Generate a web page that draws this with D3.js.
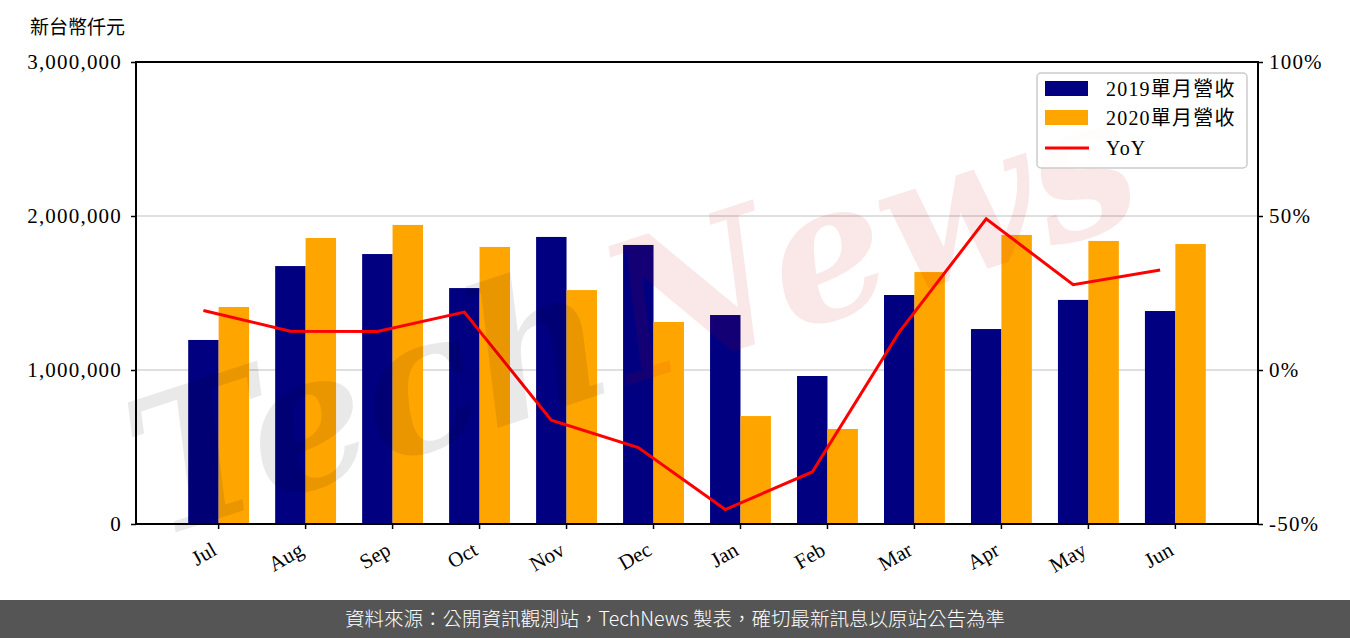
<!DOCTYPE html>
<html>
<head>
<meta charset="utf-8">
<script src="https://cdn.jsdelivr.net/npm/d3@7"></script>
<style>
  html, body { margin: 0; padding: 0; background: #fff; }
  svg { display: block; }
</style>
</head>
<body>
<svg id="chart" width="1350" height="638"></svg>
<script>
const months = ["Jul","Aug","Sep","Oct","Nov","Dec","Jan","Feb","Mar","Apr","May","Jun"];
const rev2019 = [1195000,1675000,1753000,1532000,1864000,1812000,1357000,961000,1487000,1266000,1455000,1383000];
const rev2020 = [1409000,1857000,1942000,1799000,1519000,1312000,701000,617000,1636000,1877000,1838000,1818000];
const yoy = [19.3,12.6,12.5,18.8,-16.3,-25.2,-45.3,-33.1,12.3,49.1,27.7,32.5];
const leftTicks = [0, 1000000, 2000000, 3000000];
const rightTicks = [-50, 0, 50, 100];
const seriesNames = ["2019單月營收", "2020單月營收", "YoY"];
const unitLabel = "新台幣仟元";
const footerText = "資料來源：公開資訊觀測站，TechNews 製表，確切最新訊息以原站公告為準";

const svg = d3.select("#chart");
const L = 136, R = 1258, T = 62, B = 524;
const serif = "'Liberation Serif', 'Noto Sans CJK TC', serif";
const cjk = "'Noto Sans CJK TC', sans-serif";

const x = d3.scaleBand().domain(months).range([L, R]).paddingInner(0).paddingOuter(0.45);
const step = x.step();
const cx = m => x(m) + x.bandwidth() / 2;
const barW = step * 0.35;
const yL = d3.scaleLinear().domain([0, 3000000]).range([B, T]);
const yR = d3.scaleLinear().domain([-50, 100]).range([B, T]);

// grid
svg.append("g").selectAll("line").data([1000000, 2000000]).join("line")
  .attr("x1", L).attr("x2", R).attr("y1", d => yL(d)).attr("y2", d => yL(d))
  .attr("stroke", "#d4d4d4").attr("stroke-width", 1.5);

// bars
svg.append("g").selectAll("rect").data(months).join("rect")
  .attr("x", (m) => cx(m) - barW).attr("width", barW)
  .attr("y", (m, i) => yL(rev2019[i])).attr("height", (m, i) => B - yL(rev2019[i]))
  .attr("fill", "#000080");
svg.append("g").selectAll("rect").data(months).join("rect")
  .attr("x", (m) => cx(m)).attr("width", barW)
  .attr("y", (m, i) => yL(rev2020[i])).attr("height", (m, i) => B - yL(rev2020[i]))
  .attr("fill", "#FFA500");

// yoy line
const line = d3.line().x((d, i) => cx(months[i]) - barW / 2).y(d => yR(d));
svg.append("path").datum(yoy).attr("d", line)
  .attr("fill", "none").attr("stroke", "#FF0000").attr("stroke-width", 3).attr("stroke-linejoin", "miter");

// watermark
const wm = svg.append("g").attr("transform", "translate(635,315) rotate(-18)")
  .attr("font-family", "'DejaVu Serif', serif").attr("font-style", "italic").attr("font-weight", "bold")
  .attr("font-size", 190);
wm.append("text").attr("x", -525).attr("y", 65).attr("textLength", 490).attr("lengthAdjust", "spacingAndGlyphs")
  .attr("fill", "#000").attr("fill-opacity", 0.085).text("Tech");
wm.append("text").attr("x", -25).attr("y", 65).attr("textLength", 545).attr("lengthAdjust", "spacingAndGlyphs")
  .attr("fill", "#c80000").attr("fill-opacity", 0.09).text("News");

// frame
svg.append("rect").attr("x", L).attr("y", T).attr("width", R - L).attr("height", B - T)
  .attr("fill", "none").attr("stroke", "#000").attr("stroke-width", 2);

// axes
const axL = d3.axisLeft(yL).tickValues(leftTicks).tickFormat(d3.format(",")).tickSize(5).tickPadding(9);
const gL = svg.append("g").attr("transform", `translate(${L},0)`).call(axL);
const axR = d3.axisRight(yR).tickValues(rightTicks).tickFormat(d => d + "%").tickSize(5).tickPadding(6);
const gR = svg.append("g").attr("transform", `translate(${R},0)`).call(axR);
const axB = d3.axisBottom(x).tickSize(5).tickFormat("");
const gB = svg.append("g").attr("transform", `translate(0,${B})`).call(axB);
[gL, gR, gB].forEach(g => {
  g.select(".domain").remove();
  g.selectAll(".tick line").attr("stroke", "#000").attr("stroke-width", 1.5);
  g.selectAll("text").attr("font-family", serif).attr("font-size", 21).attr("fill", "#000").attr("letter-spacing", 1.2);
});

// x labels rotated
svg.append("g").selectAll("text").data(months).join("text")
  .attr("transform", m => `translate(${cx(m) - 8},${B + 17}) rotate(-30)`)
  .attr("text-anchor", "end").attr("dy", "0.71em")
  .attr("font-family", serif).attr("font-size", 21).attr("fill", "#000").text(m => m);

// unit label
svg.append("text").attr("x", 30).attr("y", 34).attr("font-family", cjk).attr("font-size", 19)
  .attr("fill", "#000").text(unitLabel);

// legend
const lg = svg.append("g");
lg.append("rect").attr("x", 1037).attr("y", 73).attr("width", 210).attr("height", 95).attr("rx", 4)
  .attr("fill", "#fff").attr("fill-opacity", 0.85).attr("stroke", "#cccccc").attr("stroke-width", 1.5);
const lgColors = ["#000080", "#FFA500"];
const rowY = [89, 118, 148];
lgColors.forEach((c, i) => {
  lg.append("rect").attr("x", 1045).attr("y", rowY[i] - 8).attr("width", 43).attr("height", 15).attr("fill", c);
});
lg.append("line").attr("x1", 1045).attr("x2", 1089).attr("y1", rowY[2]).attr("y2", rowY[2])
  .attr("stroke", "#FF0000").attr("stroke-width", 3);
seriesNames.forEach((s, i) => {
  lg.append("text").attr("x", 1106).attr("y", rowY[i]).attr("dy", "0.35em")
    .attr("font-family", serif).attr("font-size", 20).attr("fill", "#000").attr("letter-spacing", 1.2).text(s);
});

// footer
svg.append("rect").attr("x", 0).attr("y", 600).attr("width", 1350).attr("height", 38).attr("fill", "#555555");
svg.append("text").attr("x", 675).attr("y", 619).attr("dy", "0.35em").attr("text-anchor", "middle")
  .attr("font-family", cjk).attr("font-size", 19.5).attr("font-weight", 300).attr("fill", "#fff").text(footerText);
</script>
</body>
</html>
